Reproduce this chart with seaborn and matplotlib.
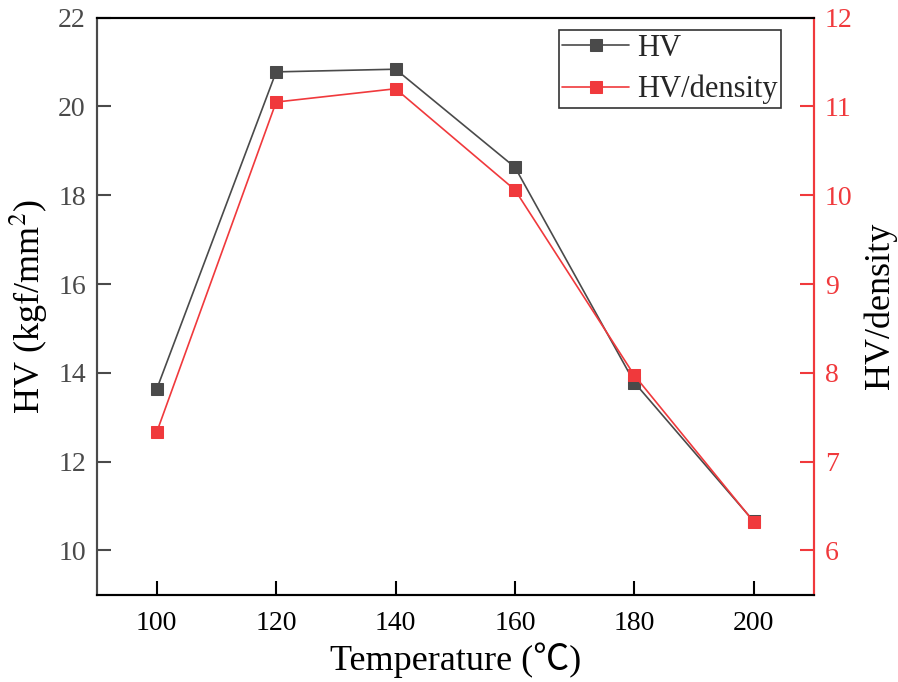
import matplotlib
matplotlib.use("Agg")
import matplotlib.pyplot as plt
import seaborn as sns
import pandas as pd

temperature = [100, 120, 140, 160, 180, 200]
hv = [13.63, 20.78, 20.84, 18.63, 13.78, 10.65]
hv_density = [7.33, 11.05, 11.20, 10.06, 7.97, 6.32]

sns.set_theme(style="white")
plt.rcParams['font.family'] = ['Liberation Serif', 'Noto Sans CJK SC', 'DejaVu Sans']
plt.rcParams['mathtext.fontset'] = 'stix'

gray = '#4a4a4a'
red = '#f0393c'

df = pd.DataFrame({'T': temperature, 'HV': hv, 'HVd': hv_density})

fig = plt.figure(figsize=(8.98, 6.82), dpi=100)
ax = fig.add_axes([0.108, 0.128, 0.798, 0.846])
ax2 = ax.twinx()

sns.lineplot(data=df, x='T', y='HV', ax=ax, color=gray, marker='s', markersize=8.5,
             markeredgecolor=gray, linewidth=1.2, label='HV', legend=False)
sns.lineplot(data=df, x='T', y='HVd', ax=ax2, color=red, marker='s', markersize=8.5,
             markeredgecolor=red, linewidth=1.2, label='HV/density', legend=False)

ax.set_xlim(90, 210)
ax.set_ylim(9, 22)
ax2.set_ylim(5.5, 12)
ax.set_xticks(temperature)
ax.set_yticks([10, 12, 14, 16, 18, 20, 22])
ax2.set_yticks([6, 7, 8, 9, 10, 11, 12])

ax.set_xlabel('Temperature (℃)', fontsize=26, color='black', labelpad=4)
ax.set_ylabel('HV (kgf/mm$^2$)', fontsize=26, color='black', labelpad=6)
ax2.set_ylabel('HV/density', fontsize=26, color='black', labelpad=8)

ax.tick_params(axis='x', which='both', bottom=True, top=False, direction='in', length=10,
               width=1.5, colors='black', labelsize=20, pad=12)
ax.tick_params(axis='y', which='both', left=True, right=False, direction='in', length=10,
               width=1.5, colors=gray, labelsize=20, pad=8)
ax2.tick_params(axis='y', which='both', right=True, left=False, direction='in', length=10,
                width=1.5, colors=red, labelsize=20, pad=8)

for a in (ax, ax2):
    for s in a.spines.values():
        s.set_linewidth(1.5)
ax.spines['top'].set_color('black')
ax.spines['bottom'].set_color('black')
ax.spines['left'].set_color(gray)
ax2.spines['left'].set_color(gray)
ax2.spines['top'].set_color('black')
ax2.spines['bottom'].set_color('black')
ax2.spines['right'].set_color(red)
ax.spines['right'].set_color(red)

h1, l1 = ax.get_legend_handles_labels()
h2, l2 = ax2.get_legend_handles_labels()
leg = ax2.legend(h1 + h2, l1 + l2, loc='upper right', bbox_to_anchor=(0.955, 0.979),
                 borderaxespad=0.0,
                 fontsize=22, frameon=True, fancybox=False, edgecolor='black',
                 handlelength=2.2, borderpad=0.12, labelspacing=0.4, handletextpad=0.25)
leg.get_frame().set_linewidth(1.2)

fig.savefig('out.png', dpi=100)
